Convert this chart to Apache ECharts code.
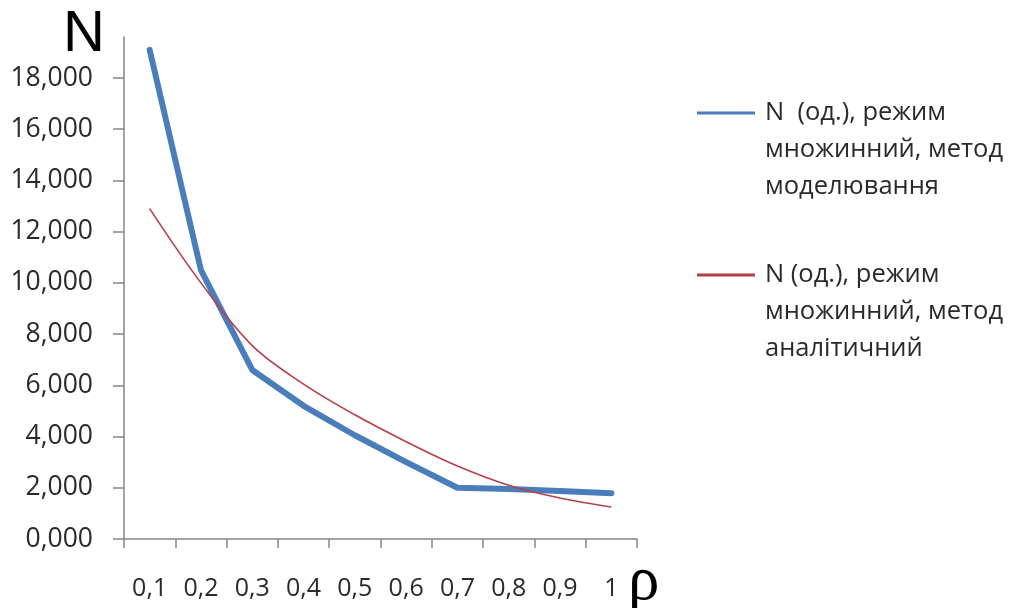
<!DOCTYPE html>
<html>
<head>
<meta charset="utf-8">
<script src="https://cdn.jsdelivr.net/npm/echarts@6/dist/echarts.min.js"></script>
<style>
html,body{margin:0;padding:0;background:#fff;}
#chart{width:1013px;height:608px;}
</style>
</head>
<body>
<div id="chart"></div>
<script>
// Categories (ρ)
var categories = ['0,1','0,2','0,3','0,4','0,5','0,6','0,7','0,8','0,9','1'];
// N, simulation method
var nModel = [19.1, 10.5, 6.6, 5.2, 4.05, 3.0, 2.0, 1.95, 1.87, 1.79];
// N, analytical method
var nAnalytic = [12.9, 10.0, 7.55, 6.05, 4.85, 3.8, 2.85, 2.1, 1.6, 1.25];
// Y tick values
var yTicks = [0, 2, 4, 6, 8, 10, 12, 14, 16, 18];
var seriesNames = [
  'N  (од.), режим множинний, метод моделювання',
  'N (од.), режим множинний, метод аналітичний'
];
var legendLines = [
  ['N  (од.), режим', 'множинний, метод', 'моделювання'],
  ['N (од.), режим', 'множинний, метод', 'аналітичний']
];

var chart = echarts.init(document.getElementById('chart'), null, {renderer: 'canvas'});
var textColor = '#2a2a2a';
var axisColor = '#868686';
function legendCfg(i, top) {
  return {
    data: [seriesNames[i]],
    left: 697, top: top, padding: 0,
    icon: 'rect', itemWidth: 58, itemHeight: 3,
    selectedMode: false,
    // two empty lines on top so the first text line sits level with the swatch
    formatter: function () { return '\n\n' + legendLines[i].join('\n'); },
    textStyle: {
      fontFamily: 'Open Sans', fontSize: 25.5, color: textColor,
      lineHeight: 37, padding: [0, 0, 0, 5]
    }
  };
}
chart.setOption({
  animation: false,
  backgroundColor: '#ffffff',
  grid: {left: 124, right: 376, top: 37, bottom: 69, containLabel: false, outerBoundsMode: 'none'},
  legend: [legendCfg(0, 20.5), legendCfg(1, 182.5)],
  xAxis: {
    type: 'category', data: categories, boundaryGap: true,
    name: 'ρ', nameLocation: 'end', nameGap: -9,
    nameTextStyle: {
      fontFamily: 'Liberation Serif', fontSize: 63, color: '#000',
      align: 'left', verticalAlign: 'top', lineHeight: 86
    },
    axisLine: {lineStyle: {color: axisColor, width: 1.5}},
    axisTick: {show: true, inside: false, length: 9, lineStyle: {color: axisColor, width: 1.5}},
    axisLabel: {fontFamily: 'Open Sans', fontSize: 25, color: textColor, margin: 37, interval: 0},
    splitLine: {show: false}
  },
  yAxis: {
    type: 'value', min: 0, max: 19.6, interval: 2,
    name: 'N', nameLocation: 'end', nameGap: 2,
    nameTextStyle: {
      fontFamily: 'Liberation Sans', fontSize: 58, color: '#000',
      align: 'right', verticalAlign: 'middle', padding: [0, 19, 0, 0]
    },
    axisLine: {show: true, lineStyle: {color: axisColor, width: 1.5}},
    axisTick: {show: true, inside: false, length: 11, customValues: yTicks, lineStyle: {color: axisColor, width: 1.5}},
    axisLabel: {
      fontFamily: 'Open Sans', fontSize: 26.5, color: textColor, margin: 31,
      customValues: yTicks,
      formatter: function (v) { return v.toFixed(3).replace('.', ','); }
    },
    splitLine: {show: false}
  },
  series: [
    {
      name: seriesNames[0], type: 'line', data: nModel,
      showSymbol: false, symbol: 'none',
      itemStyle: {color: '#4a7ebb'},
      lineStyle: {color: '#4a7ebb', width: 6, cap: 'round', join: 'round'},
      z: 2
    },
    {
      name: seriesNames[1], type: 'line', data: nAnalytic,
      showSymbol: false, symbol: 'none', smooth: 0.35,
      itemStyle: {color: '#b0404a'},
      lineStyle: {color: '#b8404a', width: 1.6},
      z: 3
    }
  ]
});
</script>
</body>
</html>
